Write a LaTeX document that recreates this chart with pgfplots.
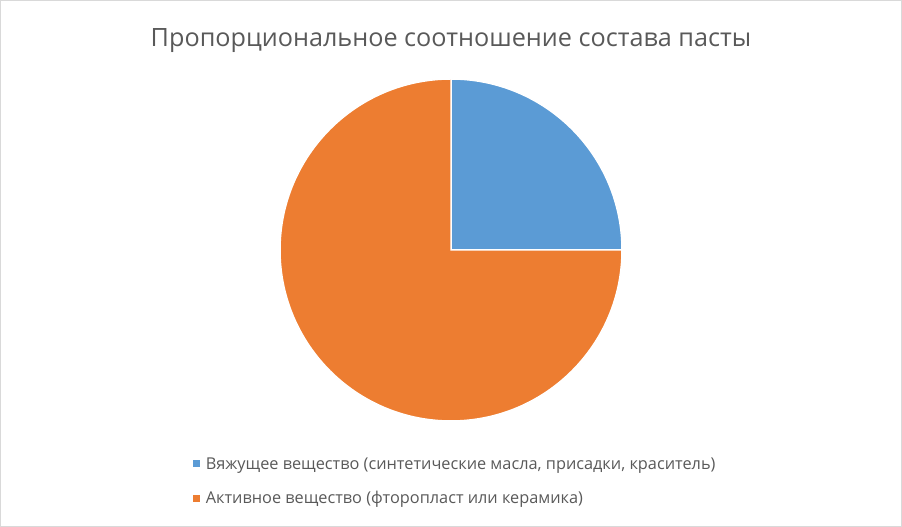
\documentclass[border=0pt]{standalone}
\usepackage{pgfplots}
\pgfplotsset{compat=1.18}
\usepackage{fontspec}
\setmainfont{Open Sans}
\definecolor{cblue}{RGB}{91,155,213}
\definecolor{corange}{RGB}{237,125,49}
\definecolor{ctitle}{RGB}{89,89,89}
\definecolor{cborder}{RGB}{217,217,217}
\begin{document}
\begin{tikzpicture}[x=1bp,y=1bp]
\useasboundingbox (0,0) rectangle (902,527);
\draw[cborder, line width=1bp] (0.5,0.5) rectangle (901.5,526.5);
\node[text=ctitle, font=\fontsize{25.2bp}{29bp}\selectfont] at (451,486) {Пропорциональное соотношение состава пасты};
\begin{axis}[
  at={(451bp,277bp)}, anchor=origin,
  scale only axis, width=342bp, height=342bp,
  xmin=-1, xmax=1, ymin=-1, ymax=1,
  hide axis, clip=false,
  legend style={at={(-0.254,-0.103)}, anchor=north west, draw=none, fill=none,
    inner sep=0pt, font=\fontsize{16.3bp}{19bp}\selectfont, text=ctitle, row sep=19bp,
    nodes={inner xsep=5.5bp, inner ysep=1bp}},
  legend cell align=left,
  legend image code/.code={\fill[#1, draw=none] (0bp,-3.5bp) rectangle (7bp,3.5bp);},
]
\fill[cblue, draw=white, line width=1.5bp] (axis cs:0,0) -- (axis cs:0,1) arc[start angle=90, delta angle=-90, radius=1] -- cycle;
\fill[corange, draw=white, line width=1.5bp] (axis cs:0,0) -- (axis cs:1,0) arc[start angle=0, delta angle=-270, radius=1] -- cycle;
\addlegendimage{fill=cblue, draw=none}
\addlegendentry{Вяжущее вещество (синтетические масла, присадки, краситель)}
\addlegendimage{fill=corange, draw=none}
\addlegendentry{Активное вещество (фторопласт или керамика)}
\end{axis}
\end{tikzpicture}
\end{document}
